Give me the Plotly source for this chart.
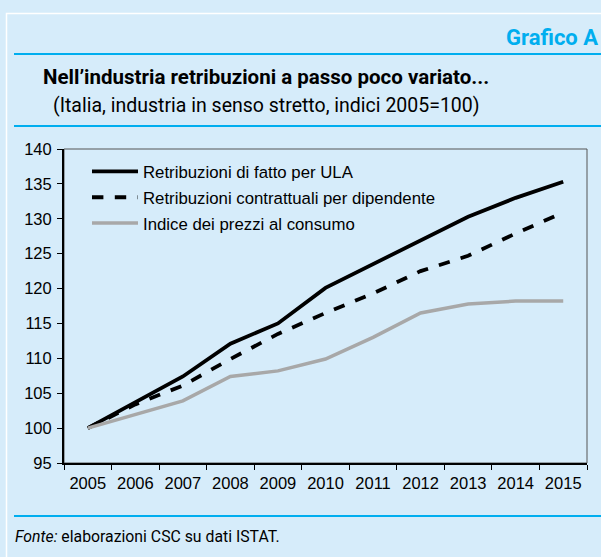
import plotly.graph_objects as go

# dati (indici 2005=100)
anni = ['2005', '2006', '2007', '2008', '2009', '2010',
        '2011', '2012', '2013', '2014', '2015']
retrib_fatto_ula = [100, 103.7, 107.4, 112.1, 115.0, 120.1,
                    123.5, 126.8, 130.3, 133.0, 135.3]
retrib_contrattuali = [100, 103.4, 106.1, 109.9, 113.5, 116.5,
                       119.3, 122.5, 124.7, 127.9, 130.9]
prezzi_consumo = [100, 101.9, 103.9, 107.4, 108.2, 109.9,
                  113.0, 116.5, 117.8, 118.2, 118.2]

nomi = ['Retribuzioni di fatto per ULA',
        'Retribuzioni contrattuali per dipendente',
        'Indice dei prezzi al consumo']

W, H = 601, 557
L, R, T, B = 64, 14, 149, 94
SFONDO = '#d6ecfa'
BLU = '#00aeef'
NARROW = 'Roboto, Liberation Sans, sans-serif'


def px_x(p):
    return (p - L) / (W - L - R)


def px_y(p):
    return (H - B - p) / (H - T - B)


fig = go.Figure()
fig.add_trace(go.Scatter(x=anni, y=retrib_fatto_ula, name=nomi[0], mode='lines',
                         legendgroup='a',
                         line=dict(color='black', width=3.8)))
fig.add_trace(go.Scatter(x=anni, y=retrib_contrattuali, name=nomi[1], mode='lines',
                         legendgroup='b',
                         line=dict(color='black', width=3.8, dash='dash')))
fig.add_trace(go.Scatter(x=anni, y=prezzi_consumo, name=nomi[2], mode='lines',
                         legendgroup='c',
                         line=dict(color='#a8a8a8', width=3.5)))

shapes = [
    # cornice bianca del riquadro
    dict(type='rect', xref='paper', yref='paper',
         x0=px_x(6.5), x1=px_x(640), y0=px_y(13.5), y1=px_y(600),
         line=dict(color='white', width=1.5), layer='below'),
    # bordo grigio area grafico
    dict(type='rect', xref='paper', yref='paper', x0=0, x1=1, y0=0, y1=1,
         line=dict(color='#555555', width=1), layer='below'),
]
for yy in [54, 126, 516]:
    shapes.append(dict(type='line', xref='paper', yref='paper',
                       x0=px_x(14), x1=px_x(601), y0=px_y(yy), y1=px_y(yy),
                       line=dict(color=BLU, width=2)))

annotations = [
    dict(text='<b>Grafico A</b>', x=px_x(600), y=px_y(37), xref='paper', yref='paper',
         xanchor='right', yanchor='middle', showarrow=False,
         font=dict(family=NARROW, size=22, color=BLU)),
    dict(text='<b>Nell\u2019industria retribuzioni a passo poco variato...</b>',
         x=px_x(266), y=px_y(77), xref='paper', yref='paper',
         xanchor='center', yanchor='middle', showarrow=False,
         font=dict(family=NARROW, size=20.5, color='black')),
    dict(text='(Italia, industria in senso stretto, indici 2005=100)',
         x=px_x(266), y=px_y(106), xref='paper', yref='paper',
         xanchor='center', yanchor='middle', showarrow=False,
         font=dict(family=NARROW, size=19.5, color='black')),
    dict(text='<i>Fonte:</i> elaborazioni CSC su dati ISTAT.',
         x=px_x(13), y=px_y(536), xref='paper', yref='paper',
         xanchor='left', yanchor='middle', showarrow=False,
         font=dict(family=NARROW, size=15.8, color='black')),
]

fig.update_layout(
    width=W, height=H,
    margin=dict(l=L, r=R, t=T, b=B),
    paper_bgcolor=SFONDO,
    plot_bgcolor=SFONDO,
    font=dict(family='Liberation Sans, Arial, sans-serif', size=16, color='black'),
    shapes=shapes,
    annotations=annotations,
    showlegend=True,
    legend=dict(x=px_x(87), y=px_y(154), xanchor='left', yanchor='top',
                bgcolor='rgba(0,0,0,0)', font=dict(size=16.8),
                itemwidth=46, tracegroupgap=1),
    xaxis=dict(type='category', range=[-0.5, len(anni) - 0.5],
               tickson='boundaries', ticks='outside', automargin=False,
               ticklen=5, tickcolor='black', linecolor='black', linewidth=2,
               showgrid=False, zeroline=False, ticklabelstandoff=4,
               tickfont=dict(size=16.5)),
    yaxis=dict(range=[95, 140], dtick=5, ticks='outside', ticklen=5,
               automargin=False,
               tickcolor='black', linecolor='black', linewidth=2,
               showgrid=False, zeroline=False, ticklabelstandoff=2,
               tickfont=dict(size=16.5)),
)

# la pagina ha un margine di default: lo azzero per allineare la figura
fig.write_html('out.html', config={'displayModeBar': False},
               post_script="document.body.style.margin='0';")
